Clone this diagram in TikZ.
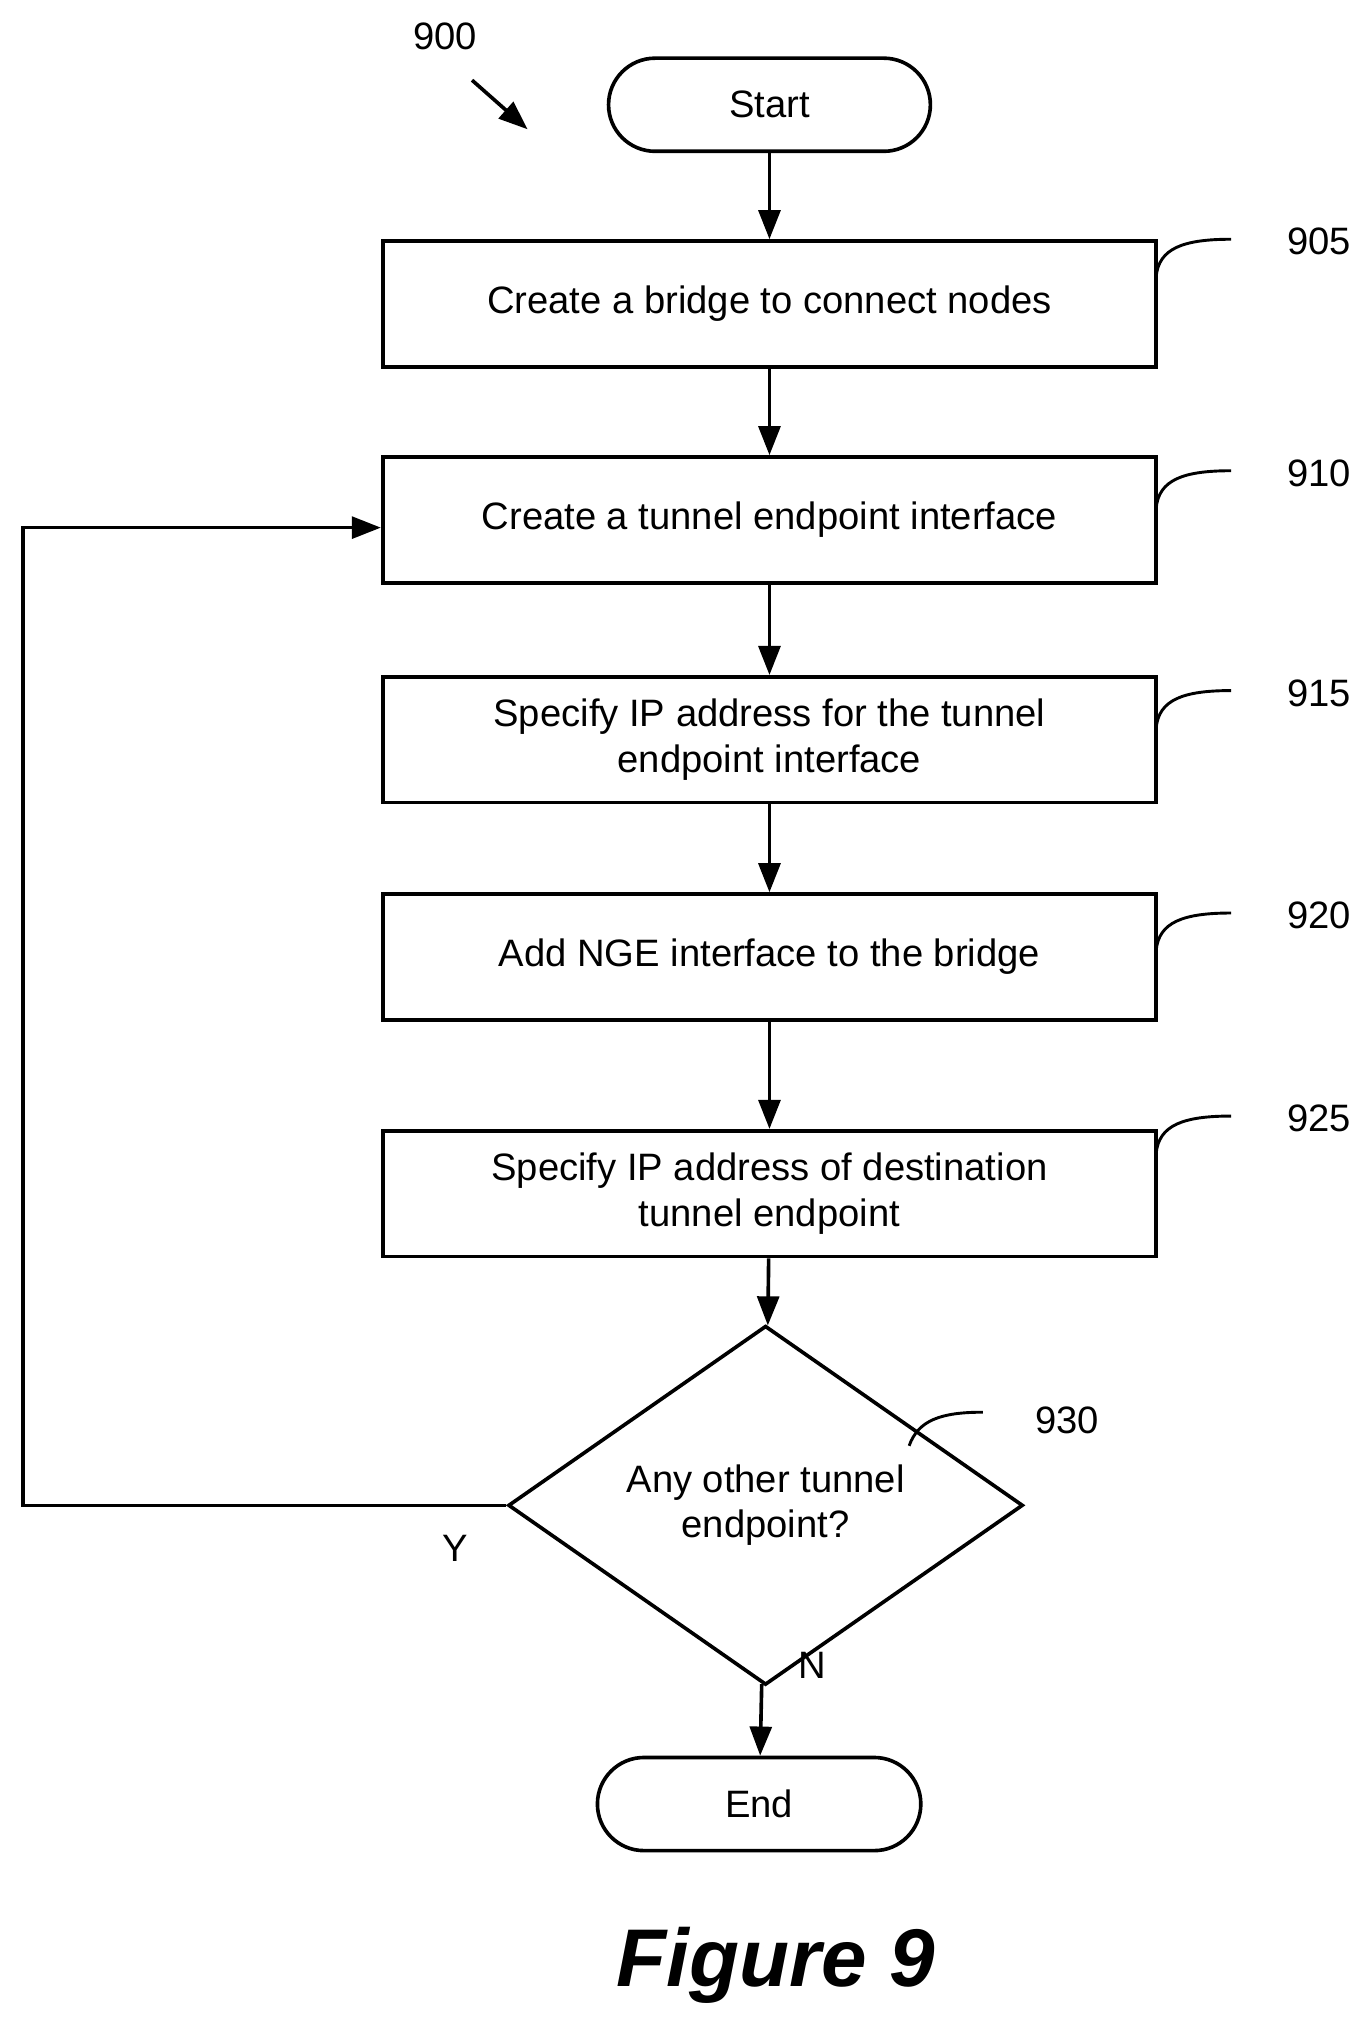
\documentclass[tikz,border=0pt]{standalone}
\usepackage{fontspec}
\setmainfont{Liberation Sans}
\usetikzlibrary{shapes.geometric,arrows.meta}
\tikzset{
  procbox/.style={draw, line width=2pt, minimum width=14.95cm, minimum height=2.43cm, align=center, font=\fontsize{21}{25}\selectfont},
  term/.style={draw, line width=2pt, rounded corners=0.9cm, minimum height=1.8cm, font=\fontsize{21}{25}\selectfont},
  flow/.style={line width=2pt, -{Triangle[length=16pt,width=12pt]}},
  tag/.style={line width=1.6pt},
  num/.style={font=\fontsize{21}{25}\selectfont}
}
\begin{document}
\begin{tikzpicture}[x=0.025cm, y=-0.025cm]
  \useasboundingbox (0,0) rectangle (1060,1562);
  \node[term, minimum width=6.22cm] (start) at (595,81) {Start};
  \node[procbox] (s905) at (595,235) {Create a bridge to connect nodes};
  \node[procbox] (s910) at (595,402) {Create a tunnel endpoint interface};
  \node[procbox] (s915) at (595,572) {Specify IP address for the tunnel\\endpoint interface};
  \node[procbox] (s920) at (595,740) {Add NGE interface to the bridge};
  \node[procbox] (s925) at (595,923) {Specify IP address of destination\\tunnel endpoint};
  \node[draw, diamond, line width=2pt, inner sep=0pt, minimum width=9.95cm, minimum height=5.4cm, align=center, font=\fontsize{21}{25}\selectfont] (d930) at (592,1164) {Any other tunnel\\endpoint?};
  \node[term, minimum width=6.25cm] (end) at (587,1395) {End};

  \draw[flow] (start) -- (s905);
  \draw[flow] (s905) -- (s910);
  \draw[flow] (s910) -- (s915);
  \draw[flow] (s915) -- (s920);
  \draw[flow] (s920) -- (s925);
  \draw[flow] (s925) -- (d930);
  \draw[flow] (d930) -- (end);
  \coordinate (loopbot) at (18,1164);
  \coordinate (looptop) at (18,408);
  \draw[flow] (d930.west) -- (loopbot) -- (looptop) -- (s910.west |- looptop);
  \node[num] (ylab) at (352,1197) {Y};
  \node[num] (nlab) at (628,1288) {N};

  % reference numerals
  \node[num] (n900) at (344,28) {900};
  \draw[flow] (365,62) -- (408,100);
  \foreach \nm/\yy in {905/187, 910/366, 915/536, 920/708, 925/865} {
    \node[num] (n\nm) at (1020,\yy) {\nm};
    \draw[tag] (894,\yy+27) .. controls (896,\yy+5) and (915,\yy-2) .. (952,\yy-2);
  }
  \node[num] (n930) at (825,1098) {930};
  \draw[tag] (703,1118) .. controls (710,1098) and (728,1092) .. (760,1092);

  \node[font=\fontsize{45}{50}\selectfont\bfseries\itshape] (fig) at (600,1520) {Figure 9};
\end{tikzpicture}
\end{document}
